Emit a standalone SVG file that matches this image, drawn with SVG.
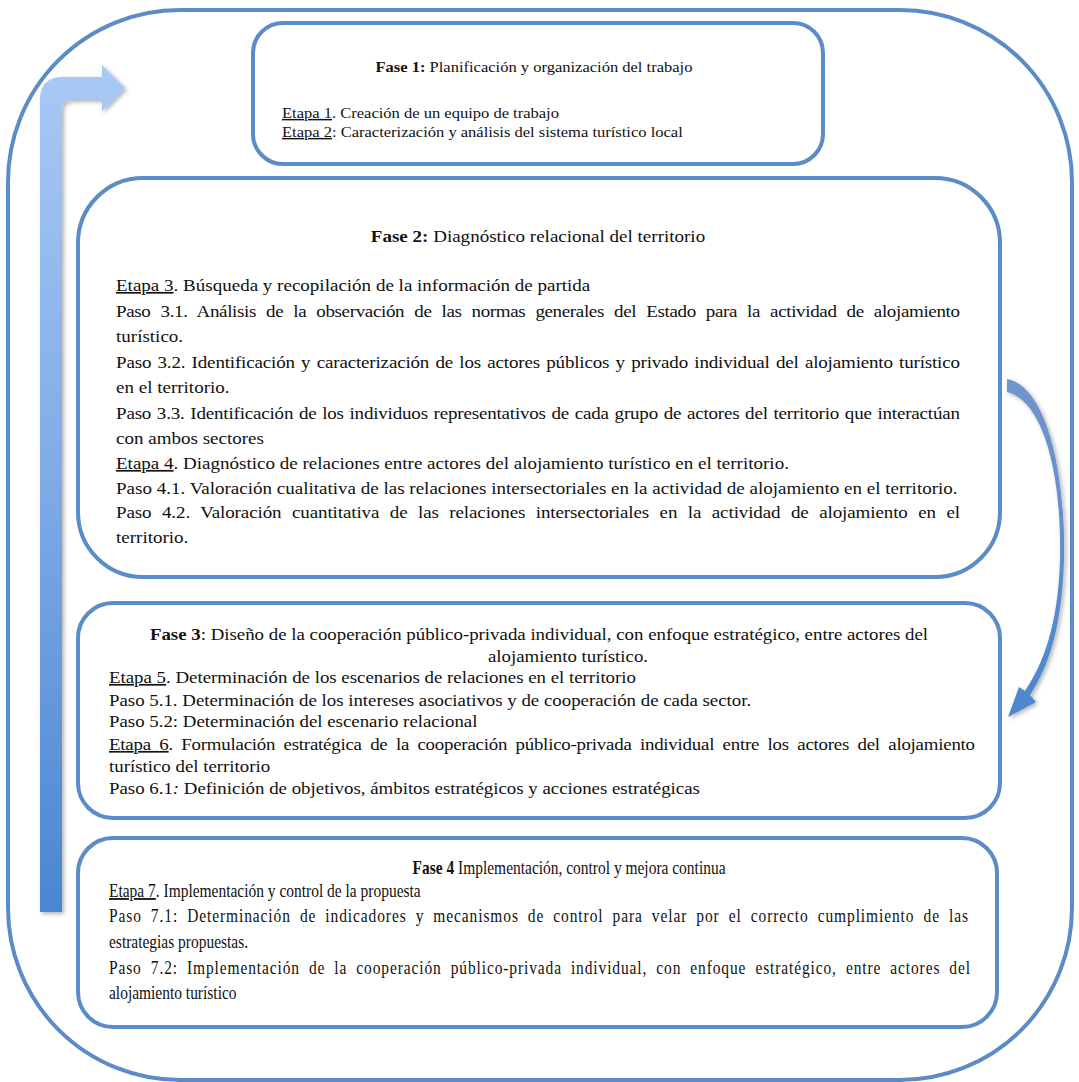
<svg xmlns="http://www.w3.org/2000/svg" width="1079" height="1082" viewBox="0 0 1079 1082">
<style>
.box{fill:#ffffff;stroke:#5b8cc7;stroke-width:4}
.t{font-family:"Liberation Serif","Times New Roman",serif;fill:#111111}
.f1{font-size:14.5px}
.f2{font-size:17px}
.f4{font-size:18px}
.b{font-weight:bold}
.m{text-anchor:middle}
</style>
<defs>
<linearGradient id="gUp" x1="0" y1="0" x2="0" y2="1">
<stop offset="0" stop-color="#a9c9f5"/>
<stop offset="0.5" stop-color="#7eaae6"/>
<stop offset="1" stop-color="#4a86d2"/>
</linearGradient>
<linearGradient id="gDown" x1="0" y1="0" x2="0" y2="1">
<stop offset="0" stop-color="#7196cb"/>
<stop offset="1" stop-color="#4c86cf"/>
</linearGradient>
<filter id="sh" x="-30%" y="-10%" width="160%" height="120%">
<feDropShadow dx="2" dy="2" stdDeviation="2" flood-color="#000000" flood-opacity="0.3"/>
</filter>
</defs>
<rect id="frame" x="8" y="10" width="1064" height="1070" rx="172" ry="172" fill="#ffffff" stroke="#5b8cc7" stroke-width="4"/>

<g id="fase1">
<rect class="box" x="253" y="23" width="570" height="141" rx="30" ry="30"/>
<g transform="matrix(1.14 0 0 1 -39.48 0)">
<text class="t f1 m" x="503" y="72"><tspan class="b">Fase 1:</tspan> Planificación y organización del trabajo</text>
<text class="t f1" x="282" y="118"><tspan text-decoration="underline">Etapa 1</tspan>. Creación de un equipo de trabajo</text>
<text class="t f1" x="282" y="137"><tspan text-decoration="underline">Etapa 2</tspan>: Caracterización y análisis del sistema turístico local</text>
</g>
</g>

<g id="fase2">
<rect class="box" x="78" y="178" width="922" height="399" rx="65" ry="65"/>
<g transform="matrix(1.12 0 0 1 -13.92 0)">
<text class="t f2 m" x="492.8" y="242"><tspan class="b">Fase 2:</tspan> Diagnóstico relacional del territorio</text>
<text class="t f2" x="116" y="291"><tspan text-decoration="underline">Etapa 3</tspan>. Búsqueda y recopilación de la información de partida</text>
<text class="t f2" x="116" y="317" word-spacing="5" textLength="753.6" lengthAdjust="spacing">Paso 3.1. Análisis de la observación de las normas generales del Estado para la actividad de alojamiento</text>
<text class="t f2" x="116" y="342">turístico.</text>
<text class="t f2" x="116" y="368" word-spacing="1.5" textLength="753.6" lengthAdjust="spacing">Paso 3.2. Identificación y caracterización de los actores públicos y privado individual del alojamiento turístico</text>
<text class="t f2" x="116" y="393">en el territorio.</text>
<text class="t f2" x="116" y="419" word-spacing="1" textLength="753.6" lengthAdjust="spacing">Paso 3.3. Identificación de los individuos representativos de cada grupo de actores del territorio que interactúan</text>
<text class="t f2" x="116" y="444">con ambos sectores</text>
<text class="t f2" x="116" y="469"><tspan text-decoration="underline">Etapa 4</tspan>. Diagnóstico de relaciones entre actores del alojamiento turístico en el territorio.</text>
<text class="t f2" x="116" y="494">Paso 4.1. Valoración cualitativa de las relaciones intersectoriales en la actividad de alojamiento en el territorio.</text>
<text class="t f2" x="116" y="518" word-spacing="5.2" textLength="753.6" lengthAdjust="spacing">Paso 4.2. Valoración cuantitativa de las relaciones intersectoriales en la actividad de alojamiento en el</text>
<text class="t f2" x="116" y="543">territorio.</text>
</g>
</g>

<g id="fase3">
<rect class="box" x="78" y="603" width="922" height="215" rx="35" ry="35"/>
<g transform="matrix(1.11 0 0 1 -11.99 0)">
<text class="t f2 m" x="496.4" y="640"><tspan class="b">Fase 3</tspan>: Diseño de la cooperación público-privada individual, con enfoque estratégico, entre actores del</text>
<text class="t f2 m" x="522.5" y="662">alojamiento turístico.</text>
<text class="t f2" x="109" y="683"><tspan text-decoration="underline">Etapa 5</tspan>. Determinación de los escenarios de relaciones en el territorio</text>
<text class="t f2" x="109" y="706">Paso 5.1. Determinación de los intereses asociativos y de cooperación de cada sector.</text>
<text class="t f2" x="109" y="727">Paso 5.2: Determinación del escenario relacional</text>
<text class="t f2" x="109" y="750" word-spacing="3.5" textLength="780.2" lengthAdjust="spacing"><tspan text-decoration="underline">Etapa 6</tspan>. Formulación estratégica de la cooperación público-privada individual entre los actores del alojamiento</text>
<text class="t f2" x="109" y="772">turístico del territorio</text>
<text class="t f2" x="109" y="794">Paso 6.1<tspan font-style="italic">:</tspan> Definición de objetivos, ámbitos estratégicos y acciones estratégicas</text>
</g>
</g>

<g id="fase4">
<rect class="box" x="78" y="838" width="919" height="189" rx="35" ry="35"/>
<g transform="matrix(0.86 0 0 1 15.26 0)">
<text class="t f4 m" x="643.9" y="874"><tspan class="b">Fase 4</tspan> Implementación, control y mejora continua</text>
<text class="t f4" x="109" y="897"><tspan text-decoration="underline">Etapa 7</tspan>. Implementación y control de la propuesta</text>
<text class="t f4" x="109" y="922" word-spacing="5" textLength="998.8" lengthAdjust="spacing">Paso 7.1: Determinación de indicadores y mecanismos de control para velar por el correcto cumplimiento de las</text>
<text class="t f4" x="109" y="948">estrategias propuestas.</text>
<text class="t f4" x="109" y="974" word-spacing="5" textLength="1001.2" lengthAdjust="spacing">Paso 7.2: Implementación de la cooperación público-privada individual, con enfoque estratégico, entre actores del</text>
<text class="t f4" x="109" y="999">alojamiento turístico</text>
</g>
</g>

<g id="connectors">
<path id="arrow-return" d="M40,912 L40,100 Q40,77 63,77 L102,77 L102,65 L125,88 L102,111 L102,100 L72,100 Q62,100 62,110 L62,912 Z" fill="url(#gUp)" filter="url(#sh)"/>
<path id="arrow-next" d="M1007,379 C1046,386 1066,470 1064,560 C1062,628 1048,668 1030,695 L1036,702 L1008,717 L1019,687 L1025,691 C1043,664 1058,626 1060,560 C1062,470 1042,400 1007,392 Z" fill="url(#gDown)" filter="url(#sh)"/>
</g>
</svg>
